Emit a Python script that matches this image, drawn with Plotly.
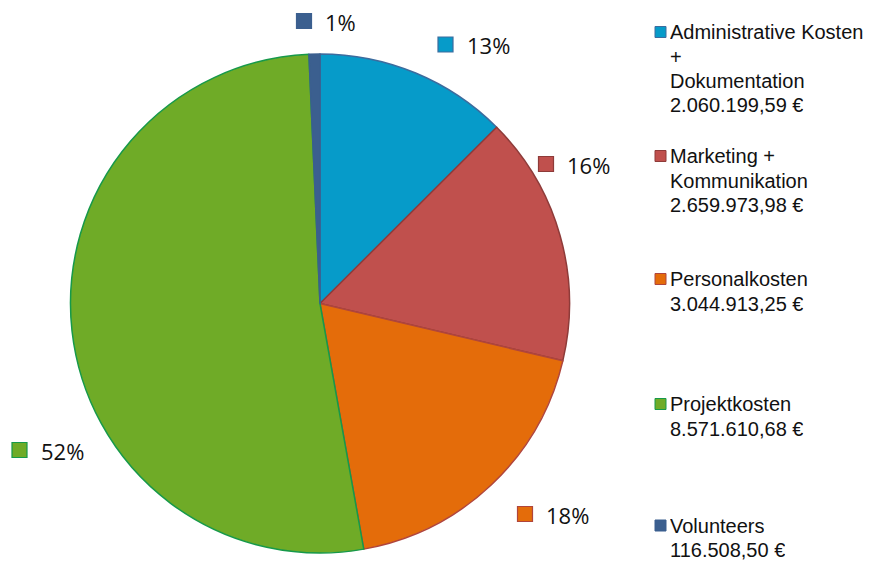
import plotly.graph_objects as go

# ---- data ----
categories = ["Administrative Kosten + Dokumentation", "Marketing + Kommunikation",
              "Personalkosten", "Projektkosten", "Volunteers"]
legend_lines = [["Administrative Kosten", "+", "Dokumentation"],
                ["Marketing +", "Kommunikation"],
                ["Personalkosten"],
                ["Projektkosten"],
                ["Volunteers"]]
values = [2060199.59, 2659973.98, 3044913.25, 8571610.68, 116508.50]
value_labels = ["2.060.199,59 €", "2.659.973,98 €", "3.044.913,25 €", "8.571.610,68 €", "116.508,50 €"]

# ---- styles ----
fill_colors = ["#069BC9", "#C0504D", "#E46C0A", "#6FAB27", "#3B5F8F"]
line_colors = ["#3C6C9E", "#8E3B39", "#B0453C", "#16994A", "#3B5F8F"]

W, H = 879, 561
def px(x): return x / W
def py(y): return 1 - y / H

cx, cy, R = 320, 303.5, 249.5

fig = go.Figure(go.Pie(
    labels=categories, values=values, sort=False, direction="clockwise", rotation=0,
    marker=dict(colors=fill_colors, line=dict(color=line_colors, width=1.5)),
    textinfo="none", hoverinfo="label+value+percent",
    domain=dict(x=[px(cx - R), px(cx + R)], y=[py(cy + R), py(cy - R)]),
    showlegend=False,
))

shapes = []
annotations = []

# percentages rounded so they sum to 100 (largest remainder), as in the original
total = sum(values)
raw = [v / total * 100 for v in values]
pcts = [int(r) for r in raw]
order = sorted(range(len(raw)), key=lambda i: raw[i] - int(raw[i]), reverse=True)
for i in order[:100 - sum(pcts)]:
    pcts[i] += 1
pct_texts = [f"{p}%" for p in pcts]

# label anchors (manually placed in the original chart)
label_anchor = [(445.5, 44.5), (546, 164), (525, 514), (19.5, 450), (304, 21)]
for (ax, ay), t, fc, lc in zip(label_anchor, pct_texts, fill_colors, line_colors):
    s = 7.5
    shapes.append(dict(type="rect", xref="paper", yref="paper",
                       x0=px(ax - s), x1=px(ax + s), y0=py(ay + s), y1=py(ay - s),
                       fillcolor=fc, line=dict(color=lc, width=1.2)))
    annotations.append(dict(x=px(ax + 19), y=py(ay + 1), xref="paper", yref="paper",
                            text=t, showarrow=False, xanchor="left", yanchor="middle",
                            font=dict(family="Open Sans", size=22, color="#111111")))

# custom legend
legend_first_y = [32, 156, 279, 404, 525.5]
line_step = 24.5
for lines, val, y0, fc, lc in zip(legend_lines, value_labels, legend_first_y, fill_colors, line_colors):
    s = 5.5
    shapes.append(dict(type="rect", xref="paper", yref="paper",
                       x0=px(660.5 - s), x1=px(660.5 + s), y0=py(y0 + s), y1=py(y0 - s),
                       fillcolor=fc, line=dict(color=lc, width=1)))
    for i, ln in enumerate(lines + [val]):
        annotations.append(dict(x=px(669), y=py(y0 + i * line_step), xref="paper", yref="paper",
                                text=ln, showarrow=False, xanchor="left", yanchor="middle",
                                height=22, borderpad=0,
                                font=dict(family="Liberation Sans, Arial", size=20, color="#111111")))

fig.update_layout(
    width=W, height=H, margin=dict(l=0, r=0, t=0, b=0),
    paper_bgcolor="white", plot_bgcolor="white",
    shapes=shapes, annotations=annotations,
)
fig.write_html("out.html", config={"displayModeBar": False},
               post_script="document.body.style.margin='0';document.body.style.overflow='hidden';")
